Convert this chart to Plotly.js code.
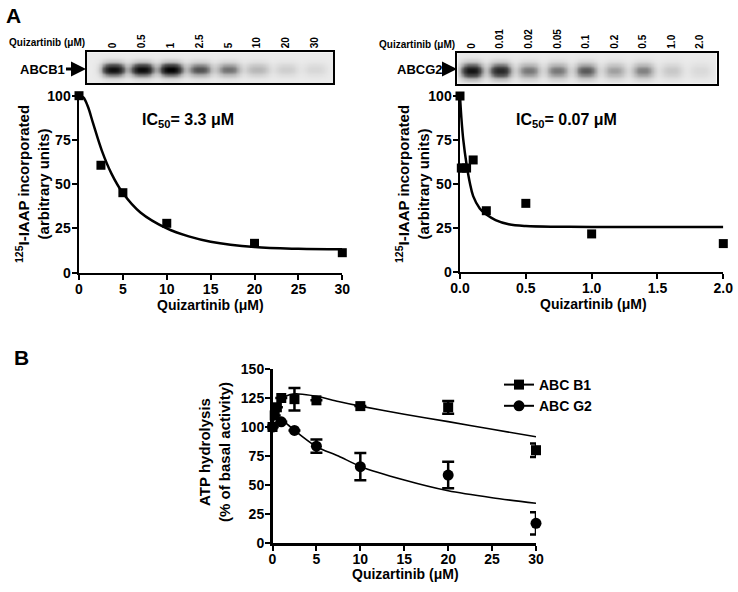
<!DOCTYPE html>
<html><head><meta charset="utf-8">
<script src="https://cdn.plot.ly/plotly-3.0.1.min.js"></script>
<style>html,body{margin:0;padding:0;background:#fff}</style>
</head><body><div id="chart" style="width:738px;height:592px"></div>
<script>
// ---- Blot lanes (band intensities read from the blots, 0 = none, 1 = darkest)
const b1Lanes = ['0','0.5','1','2.5','5','10','20','30'];
const b1Band  = [0.93,0.95,1.0,0.58,0.47,0.24,0.13,0.09];
const g2Lanes = ['0','0.01','0.02','0.05','0.1','0.2','0.5','1.0','2.0'];
const g2Band  = [0.9,0.8,0.45,0.45,0.55,0.32,0.42,0.16,0.08];

// ---- Panel A left (ABCB1)
const aB1X = [0,2.5,5,10,20,30];
const aB1Y = [100,60.7,45.2,27.9,16.6,11.3];
const aB1FitX = [0,0.5,1,1.6,2.6,3.7,5,7,10,12.5,15,20,25,30];
const aB1FitY = [100,99,94,84.5,69,56,45,34,25,20.5,17.5,14.5,13.5,13.2];

// ---- Panel A right (ABCG2)
const aG2X = [0,0.01,0.02,0.05,0.1,0.2,0.5,1,2];
const aG2Y = [100,59,59,59,63.6,34.7,38.9,21.5,16];
const aG2FitX = [0,0.01,0.025,0.05,0.075,0.1,0.15,0.2,0.27,0.37,0.5,0.75,1,1.5,2];
const aG2FitY = [100,88,75,61,50.5,43,36,32.5,29.4,27,26,25.6,25.5,25.5,25.5];

// ---- Panel B (ATP hydrolysis)
const bConcB1 = [0,0.25,0.5,1,2.5,5,10,20,30];
const bB1     = [100,110,117,125,124,123,118,117,80];
const bB1Err  = [null,null,null,null,9.7,null,null,5.5,5.8];
const bConcG2 = [0,1,2.5,5,10,20,30];
const bG2     = [100,104.5,97,83.5,65.8,58.6,17];
const bG2Err  = [null,null,null,5.8,11.7,11.4,9.6];
const bB1FitX = [0,0.5,1,2,3,5,7.5,10,15,20,25,30];
const bB1FitY = [100,117,124,128,128.5,126.5,122,118,111,104.6,98,91.6];
const bG2FitX = [0,0.5,1,1.5,2.5,5,7.5,10,15,20,25,30];
const bG2FitY = [100,103.5,105,103.5,97,83,75,66,54.3,45,39,34.2];

const FONT = 'Liberation Sans, Arial, sans-serif';
const W = 738, H = 592;
const px = v => v / W;
const py = v => 1 - v / H;

// build blot image grid from lane intensities
function blotZ(bands, x0, x1, yc, hw, hh) {
  const xs = [], ys = [], z = [];
  for (let x = x0; x <= x1 + 1e-9; x += 0.05) xs.push(+x.toFixed(3));
  for (let y = 0; y <= 1.0001; y += 0.04) ys.push(+y.toFixed(3));
  for (const y of ys) {
    const row = [];
    for (const x of xs) {
      let v = 0;
      bands.forEach((I, k) => {
        const dx = (x - k) / hw, dy = (y - yc) / hh;
        v += I * Math.exp(-Math.pow(Math.abs(dx), 3) - dy * dy);
      });
      row.push(Math.min(v, 1));
    }
    z.push(row);
  }
  return {xs, ys, z};
}
const blotL = blotZ(b1Band, -0.95, 7.7, 0.45, 0.41, 0.21);
const blotR = blotZ(g2Band, -0.55, 8.65, 0.43, 0.39, 0.24);
const blotScale = [[0,'#ebebeb'],[0.25,'#b5b5b5'],[0.55,'#585858'],[1,'#000000']];

const tf = {size: 14, weight: 'bold', family: FONT, color: '#000'};
function ax(domain, range, extra) {
  return Object.assign({
    domain, range, showline: true, linewidth: 2.5, linecolor: '#000',
    ticks: 'outside', ticklen: 5, tickwidth: 2, tickcolor: '#000',
    showgrid: false, zeroline: false, tickfont: tf, fixedrange: true
  }, extra || {});
}
function blotAx(domain, range, lanes, anchor) {
  return {domain, range, anchor, side: 'top', showline: true, mirror: true, linewidth: 2, linecolor: '#000',
    ticks: '', tickvals: lanes.map((_, i) => i), ticktext: lanes, tickangle: -90,
    tickfont: {size: 10, weight: 'bold', family: FONT, color: '#000'},
    showgrid: false, zeroline: false, fixedrange: true};
}
const blotY = (domain, anchor) => ({domain, anchor, range: [0, 1], showline: true, mirror: true, linewidth: 2,
  linecolor: '#000', showticklabels: false, ticks: '', showgrid: false, zeroline: false, fixedrange: true});

const traces = [
  {type: 'heatmap', x: blotL.xs, y: blotL.ys, z: blotL.z, xaxis: 'x', yaxis: 'y', zmin: 0, zmax: 1,
   zsmooth: 'best', colorscale: blotScale, showscale: false, hoverinfo: 'skip'},
  {type: 'heatmap', x: blotR.xs, y: blotR.ys, z: blotR.z, xaxis: 'x2', yaxis: 'y2', zmin: 0, zmax: 1,
   zsmooth: 'best', colorscale: blotScale, showscale: false, hoverinfo: 'skip'},
  // A left
  {x: aB1FitX, y: aB1FitY, xaxis: 'x3', yaxis: 'y3', mode: 'lines', line: {color: '#000', width: 2.5, shape: 'spline', smoothing: 1},
   showlegend: false, cliponaxis: false},
  {x: aB1X, y: aB1Y, xaxis: 'x3', yaxis: 'y3', mode: 'markers', marker: {symbol: 'square', size: 9, color: '#000'},
   showlegend: false, cliponaxis: false},
  // A right
  {x: aG2FitX, y: aG2FitY, xaxis: 'x4', yaxis: 'y4', mode: 'lines', line: {color: '#000', width: 2.5, shape: 'spline', smoothing: 1},
   showlegend: false, cliponaxis: false},
  {x: aG2X, y: aG2Y, xaxis: 'x4', yaxis: 'y4', mode: 'markers', marker: {symbol: 'square', size: 9, color: '#000'},
   showlegend: false, cliponaxis: false},
  // B
  {x: bB1FitX, y: bB1FitY, xaxis: 'x5', yaxis: 'y5', mode: 'lines', line: {color: '#000', width: 1.6, shape: 'spline', smoothing: 0.8},
   showlegend: false, cliponaxis: false},
  {x: bG2FitX, y: bG2FitY, xaxis: 'x5', yaxis: 'y5', mode: 'lines', line: {color: '#000', width: 1.6, shape: 'spline', smoothing: 0.8},
   showlegend: false, cliponaxis: false},
  {x: bConcG2, y: bG2, xaxis: 'x5', yaxis: 'y5', mode: 'markers', marker: {symbol: 'circle', size: 11, color: '#000'},
   error_y: {type: 'data', array: bG2Err, visible: true, thickness: 2.5, width: 6, color: '#000'},
   showlegend: false, cliponaxis: false},
  {x: bConcB1, y: bB1, xaxis: 'x5', yaxis: 'y5', mode: 'markers', marker: {symbol: 'square', size: 10, color: '#000'},
   error_y: {type: 'data', array: bB1Err, visible: true, thickness: 2.5, width: 6, color: '#000'},
   showlegend: false, cliponaxis: false},
  // legend entries
  {x: [null], y: [null], xaxis: 'x5', yaxis: 'y5', mode: 'lines+markers', name: 'ABC B1',
   marker: {symbol: 'square', size: 10, color: '#000'}, line: {color: '#000', width: 2}},
  {x: [null], y: [null], xaxis: 'x5', yaxis: 'y5', mode: 'lines+markers', name: 'ABC G2',
   marker: {symbol: 'circle', size: 11, color: '#000'}, line: {color: '#000', width: 2}}
];

const bold = (s, t, extra) => Object.assign({xref: 'paper', yref: 'paper', showarrow: false,
  xanchor: 'center', yanchor: 'middle',
  font: {size: s, weight: 'bold', family: FONT, color: '#000'}, text: t}, extra);

const annotations = [
  bold(21, 'A', {x: px(4), y: py(2), xanchor: 'left', yanchor: 'top'}),
  bold(21, 'B', {x: px(12), y: py(344), xanchor: 'left', yanchor: 'top'}),
  bold(10, 'Quizartinib (μM)', {x: px(47), y: py(43)}),
  bold(10, 'Quizartinib (μM)', {x: px(417), y: py(44)}),
  bold(13, 'ABCB1', {x: px(86), y: py(69), showarrow: true, ax: -44, ay: 0, arrowhead: 2, arrowsize: 1, arrowwidth: 3, arrowcolor: '#000'}),
  bold(13, 'ABCG2', {x: px(457), y: py(69), showarrow: true, ax: -37, ay: 0, arrowhead: 2, arrowsize: 1, arrowwidth: 3, arrowcolor: '#000'}),
  bold(16, 'IC<sub>50</sub>= 3.3 μM', {x: px(188), y: py(120)}),
  bold(16, 'IC<sub>50</sub>= 0.07 μM', {x: px(566), y: py(120)}),
  bold(15, '<sup>125</sup>I-IAAP incorporated<br>(arbitrary units)', {x: px(33), y: py(184), textangle: -90}),
  bold(15, '<sup>125</sup>I-IAAP incorporated<br>(arbitrary units)', {x: px(413), y: py(184), textangle: -90}),
  bold(15, 'ATP hydrolysis<br>(% of basal activity)', {x: px(214), y: py(452), textangle: -90}),
  bold(14, 'Quizartinib (μM)', {x: px(210), y: py(305)}),
  bold(14, 'Quizartinib (μM)', {x: px(593), y: py(304)}),
  bold(14, 'Quizartinib (μM)', {x: px(405), y: py(574)})
];

const xo = {ticklabelstandoff: -3};
const yo = {ticklabelstandoff: -2};
const layout = {
  width: W, height: H, margin: {l: 0, r: 0, t: 0, b: 0},
  paper_bgcolor: '#fff', plot_bgcolor: 'rgba(0,0,0,0)',
  font: {family: FONT, color: '#000'},
  xaxis: blotAx([px(86.7), px(333.3)], [-0.92, 7.64], b1Lanes, 'y'),
  yaxis: blotY([py(83.3), py(52.3)], 'x'),
  xaxis2: blotAx([px(457.3), px(716.7)], [-0.5, 8.58], g2Lanes, 'y2'),
  yaxis2: blotY([py(84), py(52.7)], 'x2'),
  xaxis3: ax([px(79), px(342.3)], [0, 30], Object.assign({anchor: 'y3', tickvals: [0,5,10,15,20,25,30]}, xo)),
  yaxis3: ax([py(272.7), py(95.7)], [0, 100], Object.assign({anchor: 'x3', tickvals: [0,25,50,75,100]}, yo)),
  xaxis4: ax([px(460), px(723.3)], [0, 2], Object.assign({anchor: 'y4', tickvals: [0,0.5,1,1.5,2], tickformat: '.1f'}, xo)),
  yaxis4: ax([py(271.7), py(96)], [0, 100], Object.assign({anchor: 'x4', tickvals: [0,25,50,75,100]}, yo)),
  xaxis5: ax([px(272.5), px(536)], [0, 30], Object.assign({anchor: 'y5', tickvals: [0,5,10,15,20,25,30]}, xo)),
  yaxis5: ax([py(543), py(369)], [0, 150], Object.assign({anchor: 'x5', tickvals: [0,25,50,75,100,125,150]}, yo)),
  showlegend: true,
  legend: {x: px(499), y: py(369), xanchor: 'left', yanchor: 'top', bgcolor: 'rgba(0,0,0,0)',
    font: {size: 14, weight: 'bold', family: FONT, color: '#000'}, itemwidth: 30, tracegroupgap: 0},
  annotations
};

Plotly.newPlot('chart', traces, layout, {staticPlot: true, displayModeBar: false});
</script></body></html>
